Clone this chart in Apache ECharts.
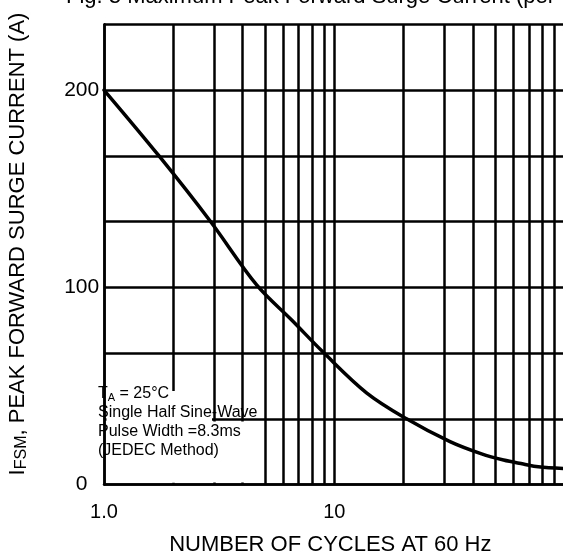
<!DOCTYPE html>
<html>
<head>
<meta charset="utf-8">
<script src="https://cdn.jsdelivr.net/npm/echarts@6/dist/echarts.min.js"></script>
<style>
html,body{margin:0;padding:0;background:#fff;}
#chart{width:563px;height:558px;}
</style>
</head>
<body>
<div id="chart"></div>
<script>
// ---- data ----
const cycles       = [1, 1.73, 2.89, 4.6, 6.53, 8.96, 13.8, 20.6, 31.8, 43.6, 54.3, 66.2, 76.9, 100];
const surgeCurrent = [200, 166.7, 133.6, 101.2, 83.4, 67.0, 46.5, 33.3, 21.7, 15.5, 12.4, 10.4, 9.0, 8.1];
const minorCycles  = [2, 3, 4, 5, 6, 7, 8, 9, 20, 30, 40, 50, 60, 70, 80, 90];
const xTickLabels  = {1: '1.0', 10: '10'};
const yTickLabels  = [0, 100, 200];
const yStep = 100 / 3;
const yMax = 700 / 3;
const titleText = 'Fig. 3 Maximum Peak Forward Surge Current (per Leg)';
const xAxisTitle = 'NUMBER OF CYCLES AT 60 Hz';
const notes = ['{t|T}{s|A}{t| = 25°C}', '{t|Single Half Sine-Wave}', '{t|Pulse Width =8.3ms}', '{t|(JEDEC Method)}'];

const FONT = 'Liberation Sans, Arial, sans-serif';
const chart = echarts.init(document.getElementById('chart'), null, {renderer: 'canvas'});

const option = {
  animation: false,
  backgroundColor: '#fff',
  grid: {left: 104, right: -1.6, top: 24.3, bottom: 73.5, containLabel: false, outerBoundsMode: 'none'},
  xAxis: {
    type: 'log', logBase: 10, min: 1, max: 100,
    name: xAxisTitle, nameLocation: 'middle', nameGap: 49,
    nameTextStyle: {fontSize: 22, color: '#000', fontFamily: FONT, padding: [0, 8, 0, 0]},
    axisLine: {lineStyle: {color: '#000', width: 2.5}},
    axisTick: {show: false},
    axisLabel: {
      color: '#000', fontSize: 20, fontFamily: FONT, margin: 18,
      formatter: v => xTickLabels[Math.round(v)] || ''
    },
    splitLine: {show: true, lineStyle: {color: '#000', width: 2.5}}
  },
  yAxis: {
    type: 'value', min: 0, max: yMax, interval: yStep,
    axisLine: {show: true, lineStyle: {color: '#000', width: 2.5}},
    axisTick: {show: false},
    axisLabel: {
      color: '#000', fontSize: 21, fontFamily: FONT, margin: 22.3, align: 'center',
      formatter: v => yTickLabels.some(t => Math.abs(v - t) < 0.01) ? String(Math.round(v)) : ''
    },
    splitLine: {show: true, lineStyle: {color: '#000', width: 2.5}}
  },
  series: [{
    type: 'line',
    data: cycles.map((c, i) => [c, surgeCurrent[i]]),
    smooth: 0.35,
    showSymbol: false,
    lineStyle: {color: '#000', width: 3.5, join: 'round', cap: 'round'},
    markLine: {
      silent: true, animation: false,
      symbol: ['none', 'none'],
      label: {show: false},
      lineStyle: {color: '#000', width: 2.5, type: 'solid'},
      emphasis: {disabled: true},
      data: minorCycles.map(v => ({xAxis: v}))
    }
  }],
  graphic: [
    {type: 'rect', z: 100, shape: {x: 106.5, y: 391, width: 105.5, height: 91.5}, style: {fill: '#fff'}},
    {type: 'rect', z: 100, shape: {x: 106.5, y: 421.5, width: 155.5, height: 61}, style: {fill: '#fff'}},
    {
      type: 'text', z: 101, x: 98, y: 384,
      style: {
        text: notes.join('\n'),
        align: 'left', verticalAlign: 'top',
        rich: {
          t: {fontSize: 16, lineHeight: 19, fontFamily: FONT, fill: '#000', color: '#000', verticalAlign: 'middle'},
          s: {fontSize: 11, lineHeight: 10, fontFamily: FONT, fill: '#000', color: '#000', verticalAlign: 'bottom'}
        }
      }
    },
    {
      type: 'text', z: 101, x: 66, y: 8,
      style: {text: titleText, font: '22px ' + FONT, fill: '#000', align: 'left', verticalAlign: 'bottom'}
    },
    {
      type: 'text', z: 101, x: 16.3, y: 244, rotation: Math.PI / 2,
      style: {
        text: '{a|I}{b|FSM}{a|, PEAK FORWARD SURGE CURRENT (A)}',
        align: 'center', verticalAlign: 'middle',
        rich: {
          a: {fontSize: 22, lineHeight: 26, fontFamily: FONT, fill: '#000', color: '#000', verticalAlign: 'bottom'},
          b: {fontSize: 16, lineHeight: 20, fontFamily: FONT, fill: '#000', color: '#000', verticalAlign: 'bottom'}
        }
      }
    }
  ]
};
chart.setOption(option);
</script>
</body>
</html>
